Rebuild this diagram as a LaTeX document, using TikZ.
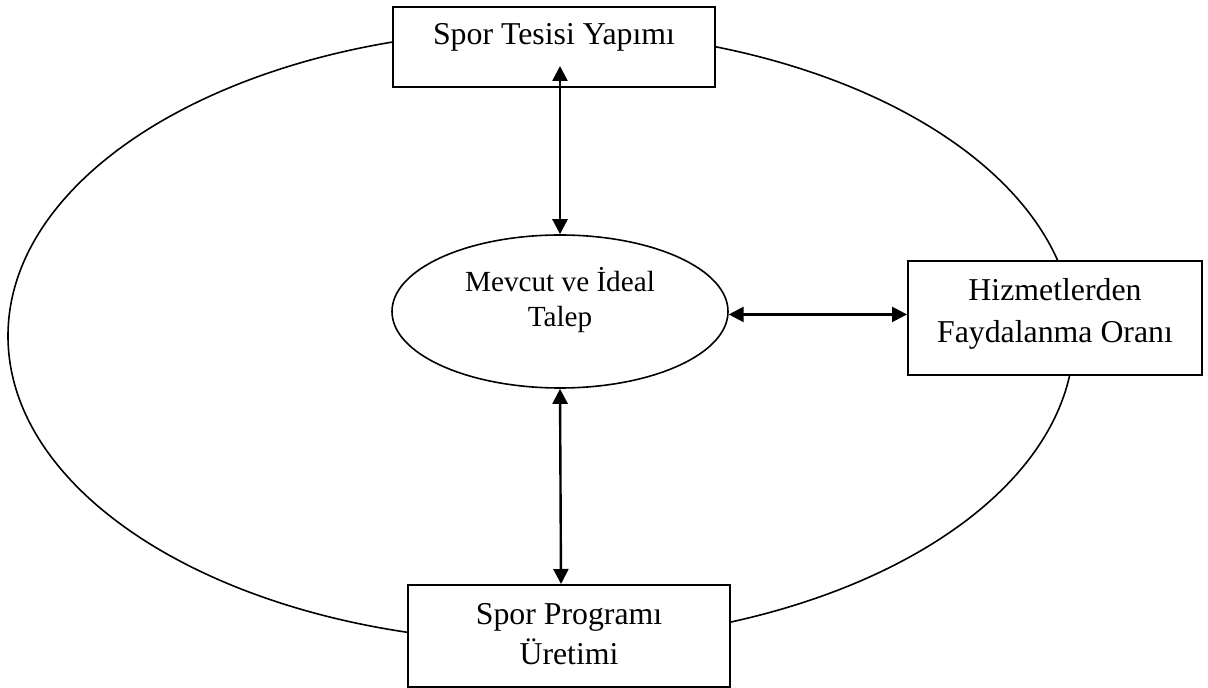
\documentclass[tikz,border=0pt]{standalone}
\usepackage{fontspec}
\setmainfont{Liberation Serif}
\usepackage{tikz}
\usetikzlibrary{shapes.geometric}
\usetikzlibrary{arrows.meta}
\newcommand{\bigtxt}{\fontsize{15.9pt}{20pt}\selectfont}
\newcommand{\smalltxt}{\fontsize{14.6pt}{17.5pt}\selectfont}

\begin{document}
\begin{tikzpicture}[x=0.5pt, y=-0.5pt,
	kutu/.style={draw, fill=white, line width=1pt, inner sep=0pt, align=center, font=\bigtxt},
	ok/.style={{Triangle[length=7.5pt, width=7.5pt]}-{Triangle[length=7.5pt, width=7.5pt]}, line width=1.2pt}]
	\useasboundingbox (0,0) rectangle (1208,688);
	%\draw[step=50, black!20!white] (0,0) grid (1208,688);
	\draw[line width=0.8pt] (541,336) ellipse [x radius=266.5pt, y radius=153pt];
	\node[kutu, minimum width=161pt, minimum height=40pt, text height=11pt, text depth=13pt] (tesis) at (554,47) {Spor Tesisi Yapımı};
	\node[kutu, minimum width=147pt, minimum height=57pt, text depth=8.5pt, font=\fontsize{15.9pt}{21pt}\selectfont] (hizmet) at (1055,318.5) {Hizmetlerden\\Faydalanma Oranı};
	\node[kutu, minimum width=161pt, minimum height=51pt, text depth=1.75pt] (program) at (569,636) {Spor Programı\\Üretimi};
	\node[draw, ellipse, line width=0.8pt, inner sep=0pt, minimum width=168pt, minimum height=76.5pt, text depth=15pt, align=center, font=\smalltxt] (talep) at (560,311.5) {Mevcut ve İdeal\\Talep};
	\draw[ok] ([xshift=3pt, yshift=11pt]tesis.south) -- (talep.north);
	\draw[ok] (talep.south) -- ([xshift=-4pt]program.north);
	\draw[ok] (talep.-1) -- (talep.-1 -| hizmet.west);
\end{tikzpicture}
\end{document}
